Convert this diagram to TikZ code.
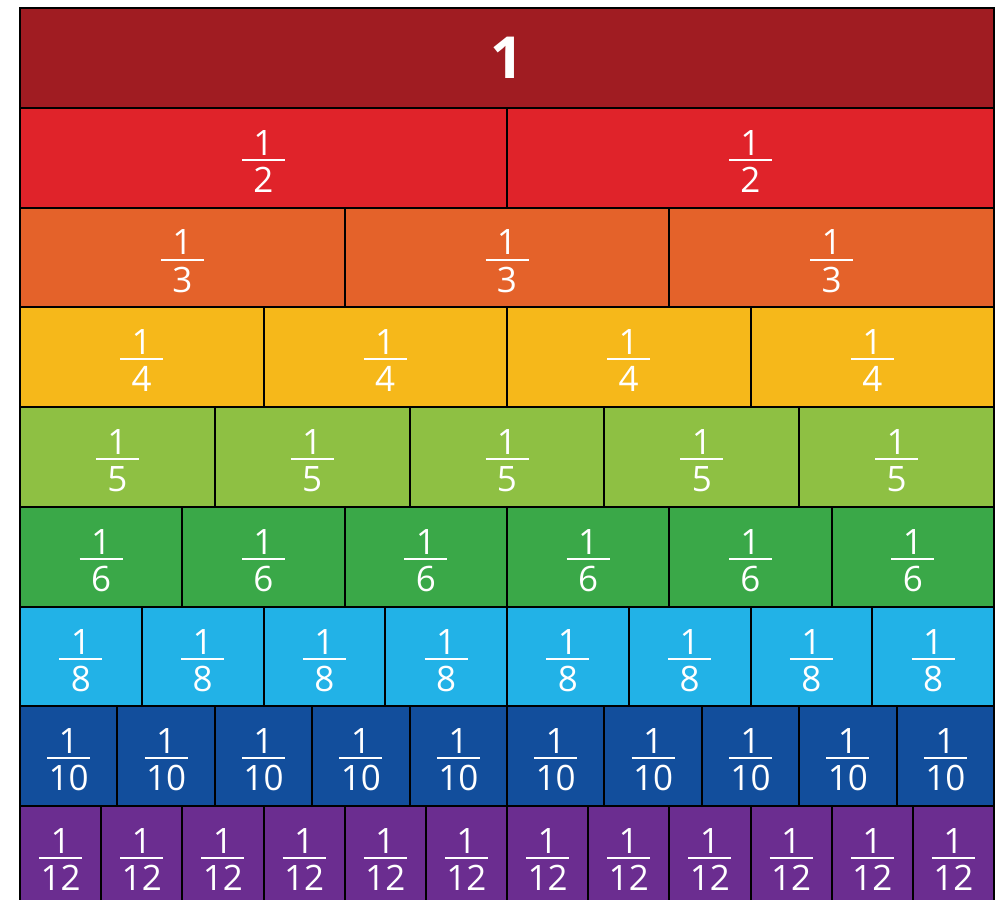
\documentclass[tikz,border=0pt]{standalone}
\usepackage{fontspec}
\setmainfont{Open Sans}

% Strip colours, top to bottom
\definecolor{wholered}{HTML}{A01C22}
\definecolor{halfred}{HTML}{E0232A}
\definecolor{thirdorange}{HTML}{E4622A}
\definecolor{quarteryellow}{HTML}{F6B81A}
\definecolor{fifthlime}{HTML}{8EC043}
\definecolor{sixthgreen}{HTML}{3AA848}
\definecolor{eighthsky}{HTML}{22B2E7}
\definecolor{tenthblue}{HTML}{124E9C}
\definecolor{twelfthpurple}{HTML}{6B2D90}

\tikzset{
  piece/.style={draw=black, line width=2pt, inner sep=0pt, outer sep=0pt},
  digit/.style={text=white, inner sep=0pt, font=\fontsize{35}{40}\selectfont},
  bignum/.style={text=white, inner sep=0pt, font=\fontsize{58}{64}\selectfont\bfseries},
  fracbar/.style={white, line width=2pt}
}

\begin{document}
\begin{tikzpicture}[x=1pt, y=-1pt]
  % Page frame, 997 x 900 units with y pointing down
  \useasboundingbox (0,0) rectangle (997,900);
  \fill[white] (0,0) rectangle (997,900);
  \begin{scope}
    \clip (0,0) rectangle (997,900);
    % Whole strip on top
    \node[piece, fill=wholered, minimum width=974, minimum height=99.75]
      (whole) at (507,57.875) {};
    \node[bignum] (whole-num) at (whole.center) {1};
    % One row for each denominator, split into equal pieces
    \foreach \d/\col [count=\r from 2] in {2/halfred, 3/thirdorange,
        4/quarteryellow, 5/fifthlime, 6/sixthgreen, 8/eighthsky,
        10/tenthblue, 12/twelfthpurple} {
      \pgfmathsetmacro\w{974/\d}
      \pgfmathsetmacro\ty{8+99.75*(\r-1)}
      \foreach \i in {1,...,\d} {
        \pgfmathsetmacro\cx{20+\w*(\i-0.5)}
        \node[piece, fill=\col, minimum width=\w, minimum height=99.75]
          (p-\d-\i) at (\cx,\ty+49.875) {};
        % Unit fraction 1/d inside the piece
        \node[digit] (n-\d-\i) at (\cx,\ty+35) {1};
        \node[digit] (d-\d-\i) at (\cx,\ty+72) {\d};
        \draw[fracbar] (\cx-21.5,\ty+52) -- (\cx+21.5,\ty+52);
      }
    }
  \end{scope}
\end{tikzpicture}
\end{document}
